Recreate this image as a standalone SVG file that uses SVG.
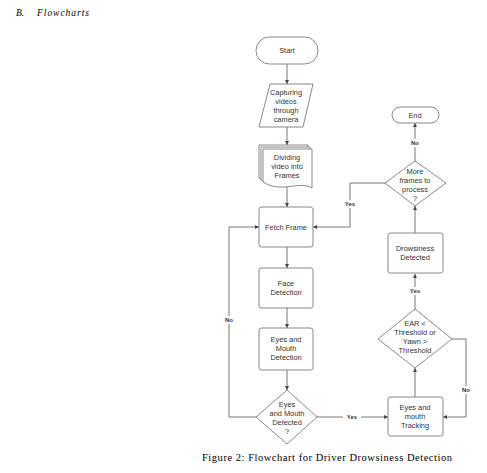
<svg xmlns="http://www.w3.org/2000/svg" width="487" height="473" viewBox="0 0 487 473">
<style>
.shape{fill:#fff;stroke:#7a7a7a;stroke-width:0.9}
.line{fill:none;stroke:#6a6a6a;stroke-width:0.9}
.t{font-family:"Liberation Sans",Arial,sans-serif;font-size:7.4px;fill:#333;text-anchor:middle}
.lbl{font-family:"Liberation Sans",Arial,sans-serif;font-size:6px;font-weight:bold;fill:#333;text-anchor:middle}
.ser{font-family:"Liberation Serif","Times New Roman",serif;fill:#000}
</style>
<defs>
<marker id="arr" viewBox="0 0 10 10" refX="10" refY="5" markerWidth="4" markerHeight="4" orient="auto" markerUnits="userSpaceOnUse">
<path d="M0,0 L10,5 L0,10 Z" fill="#444"/>
</marker>
</defs>
<rect width="487" height="473" fill="#fff"/>
<text class="ser" x="16" y="16" font-size="9.5" font-style="italic">B.</text>
<text class="ser" x="37" y="16" font-size="9.5" font-style="italic" textLength="52">Flowcharts</text>

<g id="connectors">
<line class="line" x1="287" y1="64" x2="287" y2="84" marker-end="url(#arr)"/>
<line class="line" x1="287" y1="127" x2="287" y2="145" marker-end="url(#arr)"/>
<line class="line" x1="287" y1="187" x2="287" y2="207" marker-end="url(#arr)"/>
<line class="line" x1="287" y1="247" x2="287" y2="268" marker-end="url(#arr)"/>
<line class="line" x1="287" y1="308" x2="287" y2="328" marker-end="url(#arr)"/>
<line class="line" x1="287" y1="370" x2="287" y2="390" marker-end="url(#arr)"/>
<polyline class="line" points="256,417 229,417 229,227 259,227" marker-end="url(#arr)"/>
<line class="line" x1="317" y1="417" x2="388" y2="417" marker-end="url(#arr)"/>
<line class="line" x1="415" y1="397" x2="415" y2="368" marker-end="url(#arr)"/>
<polyline class="line" points="452,339 466,339 466,417 443,417" marker-end="url(#arr)"/>
<line class="line" x1="415" y1="309" x2="415" y2="274" marker-end="url(#arr)"/>
<line class="line" x1="415" y1="233" x2="415" y2="206" marker-end="url(#arr)"/>
<line class="line" x1="415" y1="161" x2="415" y2="123" marker-end="url(#arr)"/>
<polyline class="line" points="385,183 350,183 350,227 313,227" marker-end="url(#arr)"/>
<rect x="221" y="316" width="16" height="8" fill="#fff"/>
<text class="lbl" x="229" y="322">No</text>
<rect x="343" y="413" width="18" height="8" fill="#fff"/>
<text class="lbl" x="352" y="419">Yes</text>
<rect x="458" y="386" width="16" height="8" fill="#fff"/>
<text class="lbl" x="466" y="392">No</text>
<rect x="406" y="287" width="18" height="8" fill="#fff"/>
<text class="lbl" x="415" y="293">Yes</text>
<rect x="407" y="139" width="16" height="8" fill="#fff"/>
<text class="lbl" x="415" y="145">No</text>
<rect x="341" y="200" width="18" height="8" fill="#fff"/>
<text class="lbl" x="350" y="206">Yes</text>
</g>

<g id="start">
<rect class="shape" x="256" y="37" width="62" height="27" rx="13.5"/>
<text class="t" x="287" y="53">Start</text>
</g>
<g id="capture">
<polygon class="shape" points="270,84 313,84 303,127 259,127"/>
<text class="t" x="286" y="95">Capturing</text>
<text class="t" x="286" y="104">videos</text>
<text class="t" x="286" y="113">through</text>
<text class="t" x="286" y="122">camera</text>
</g>
<g id="dividing">
<path class="shape" d="M259,145 H308 V184 C296,176 278,190 259,178 Z"/>
<path class="shape" d="M261,147 H310 V186 C298,178 280,192 261,180 Z"/>
<path class="shape" d="M263,149 H312 V188 C300,180 282,194 263,182 Z"/>
<text class="t" x="287" y="160">Dividing</text>
<text class="t" x="287" y="169">video into</text>
<text class="t" x="287" y="178">Frames</text>
</g>
<g id="fetch">
<rect class="shape" x="259" y="207" width="54" height="40" rx="2.5"/>
<text class="t" x="286" y="230">Fetch Frame</text>
</g>
<g id="face">
<rect class="shape" x="259" y="268" width="54" height="40" rx="2.5"/>
<text class="t" x="286" y="286">Face</text>
<text class="t" x="286" y="295">Detection</text>
</g>
<g id="eyesmouth">
<rect class="shape" x="259" y="328" width="54" height="42" rx="2.5"/>
<text class="t" x="286" y="342">Eyes and</text>
<text class="t" x="286" y="351">Mouth</text>
<text class="t" x="286" y="360">Detection</text>
</g>
<g id="detected">
<polygon class="shape" points="287,390 317,417 287,444 256,417"/>
<text class="t" x="287" y="407">Eyes</text>
<text class="t" x="287" y="416">and Mouth</text>
<text class="t" x="287" y="425">Detected</text>
<text class="t" x="287" y="434">?</text>
</g>
<g id="tracking">
<rect class="shape" x="388" y="397" width="55" height="39" rx="2.5"/>
<text class="t" x="415" y="410">Eyes and</text>
<text class="t" x="415" y="419">mouth</text>
<text class="t" x="415" y="428">Tracking</text>
</g>
<g id="ear">
<polygon class="shape" points="415,309 452,339 415,368 378,339"/>
<text class="t" x="415" y="326">EAR &lt;</text>
<text class="t" x="415" y="335">Threshold or</text>
<text class="t" x="415" y="344">Yawn &gt;</text>
<text class="t" x="415" y="353">Threshold</text>
</g>
<g id="drowsiness">
<rect class="shape" x="388" y="233" width="55" height="40" rx="2.5"/>
<text class="t" x="415" y="251">Drowsiness</text>
<text class="t" x="415" y="260">Detected</text>
</g>
<g id="more">
<polygon class="shape" points="415,161 446,183 415,206 385,183"/>
<text class="t" x="415" y="174">More</text>
<text class="t" x="415" y="183">frames to</text>
<text class="t" x="415" y="192">process</text>
<text class="t" x="415" y="201">?</text>
</g>
<g id="end">
<rect class="shape" x="392" y="107" width="47" height="16" rx="8"/>
<text class="t" x="415" y="118">End</text>
</g>
<text class="ser" x="202" y="461" font-size="10.5" textLength="250">Figure 2: Flowchart for Driver Drowsiness Detection</text>
</svg>
